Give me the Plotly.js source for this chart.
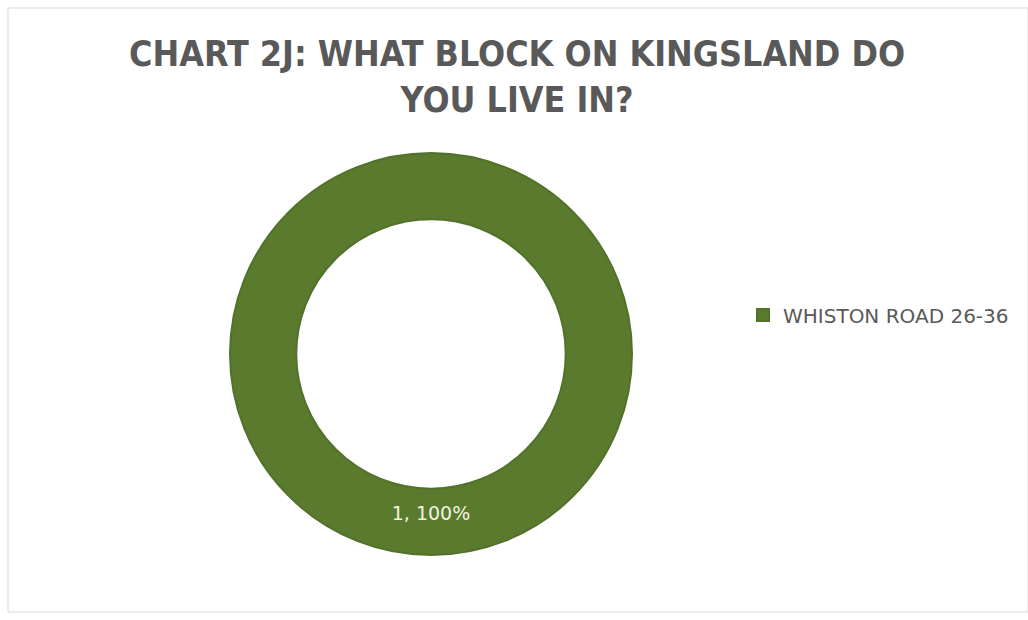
<!DOCTYPE html>
<html>
<head>
<meta charset="utf-8">
<script src="https://cdn.plot.ly/plotly-3.0.1.min.js"></script>
<style>html,body{margin:0;padding:0;background:#fff;}#chart{width:1028px;height:620px;}</style>
</head>
<body>
<div id="chart"></div>
<script>
const categories = ["WHISTON ROAD 26-36"];
const counts = [1];
const colors = ["#5a7b2d"];
const chartTitle = "CHART 2J: WHAT BLOCK ON KINGSLAND DO<br>YOU LIVE IN?";

const trace = {
  type: "pie",
  labels: categories,
  values: counts,
  hole: 0.67,
  sort: false,
  direction: "clockwise",
  rotation: 0,
  marker: {colors: colors, line: {color: "#52712a", width: 2}},
  textinfo: "value+percent",
  texttemplate: "%{value}, %{percent:.0%}",
  textposition: "inside",
  insidetextorientation: "horizontal",
  textfont: {family: "DejaVu Sans, sans-serif", size: 19, color: "#f2f2e0"},
  hoverinfo: "none",
  domain: {x: [230/1028, 632/1028], y: [1 - 556/620, 1 - 152/620]}
};

const layout = {
  width: 1028, height: 620,
  margin: {l: 0, r: 0, t: 0, b: 0},
  paper_bgcolor: "#ffffff",
  title: {
    text: chartTitle,
    font: {family: "DejaVu Sans Condensed, sans-serif", size: 35.5, color: "#595959", weight: "bold"},
    x: 0.503, xanchor: "center", y: 1 - 66/620, yanchor: "middle"
  },
  showlegend: true,
  legend: {
    x: 743/1028, xanchor: "left", y: 1 - 315/620, yanchor: "middle",
    font: {family: "DejaVu Sans, sans-serif", size: 20, color: "#595959"},
    itemwidth: 30, bgcolor: "rgba(0,0,0,0)"
  },
  shapes: [{
    type: "rect", xref: "paper", yref: "paper",
    x0: 8/1028, x1: 1, y0: 1 - 612/620, y1: 1 - 8/620,
    line: {color: "#d9d9d9", width: 1}, fillcolor: "rgba(0,0,0,0)"
  }]
};

Plotly.newPlot("chart", [trace], layout, {displayModeBar: false, staticPlot: true});
</script>
</body>
</html>
